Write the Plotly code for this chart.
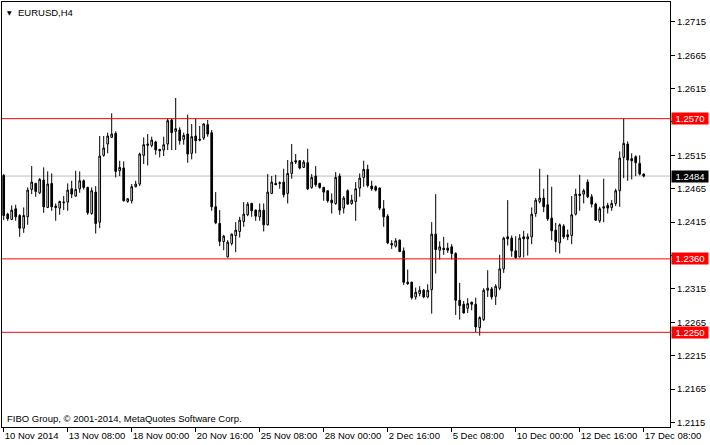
import plotly.graph_objects as go

# EURUSD H4 bars (oldest first)
OPEN = [
    1.2485, 1.2427, 1.2419, 1.2435, 1.2425, 1.2406, 1.2423, 1.2464, 1.2473, 1.2459,
    1.2478, 1.2437, 1.2473, 1.2439, 1.2436, 1.2444, 1.2445, 1.2465, 1.2454, 1.2465,
    1.2477, 1.2467, 1.2428, 1.2460, 1.2415, 1.2515, 1.2532, 1.2542, 1.2548, 1.2492,
    1.2496, 1.2446, 1.2447, 1.2468, 1.2472, 1.2515, 1.2530, 1.2530, 1.2535, 1.2524,
    1.2523, 1.2532, 1.2568, 1.2551, 1.2553, 1.2539, 1.2547, 1.2518, 1.2544, 1.2539,
    1.2541, 1.2561, 1.2549, 1.2438, 1.2413, 1.2386, 1.2363, 1.2383, 1.2395, 1.2401,
    1.2416, 1.2426, 1.2443, 1.2433, 1.2423, 1.2433, 1.2411, 1.2458, 1.2473, 1.2473,
    1.2475, 1.2458, 1.2488, 1.2507, 1.2507, 1.2497, 1.2504, 1.2467, 1.2484, 1.2473,
    1.2467, 1.2462, 1.2448, 1.2443, 1.2484, 1.2436, 1.2462, 1.2443, 1.2446, 1.2466,
    1.2482, 1.2494, 1.2469, 1.2468, 1.2466, 1.2435, 1.2424, 1.2383, 1.2379, 1.2388,
    1.2372, 1.2325, 1.2325, 1.2303, 1.2308, 1.2313, 1.2303, 1.2314, 1.2397, 1.2373,
    1.2376, 1.2376, 1.2378, 1.2368, 1.2298, 1.2292, 1.2286, 1.2295, 1.2292, 1.2257,
    1.2269, 1.2313, 1.2315, 1.2304, 1.2316, 1.2345, 1.2393, 1.2391, 1.2372, 1.2363,
    1.2393, 1.2390, 1.2393, 1.2428, 1.2446, 1.2451, 1.2441, 1.2421, 1.2403, 1.2384,
    1.2409, 1.2396, 1.2395, 1.2427, 1.2457, 1.2457, 1.2475, 1.2453, 1.2442, 1.2417,
    1.2436, 1.2440, 1.2437, 1.2443, 1.2462, 1.2512, 1.2532, 1.2510, 1.2513, 1.2503,
    1.2487,
]
HIGH = [
    1.2487, 1.2429, 1.2440, 1.2441, 1.2427, 1.2437, 1.2467, 1.2499, 1.2474, 1.2481,
    1.2497, 1.2491, 1.2488, 1.2443, 1.2447, 1.2454, 1.2473, 1.2477, 1.2492, 1.2491,
    1.2479, 1.2468, 1.2467, 1.2469, 1.2544, 1.2544, 1.2549, 1.2578, 1.2551, 1.2507,
    1.2506, 1.2451, 1.2472, 1.2477, 1.2519, 1.2542, 1.2547, 1.2543, 1.2537, 1.2524,
    1.2543, 1.2571, 1.2571, 1.2601, 1.2557, 1.2549, 1.2576, 1.2562, 1.2570, 1.2559,
    1.2563, 1.2568, 1.2553, 1.2460, 1.2433, 1.2396, 1.2388, 1.2398, 1.2415, 1.2423,
    1.2445, 1.2445, 1.2444, 1.2434, 1.2443, 1.2443, 1.2487, 1.2484, 1.2486, 1.2476,
    1.2495, 1.2508, 1.2532, 1.2517, 1.2508, 1.2508, 1.2525, 1.2487, 1.2499, 1.2474,
    1.2468, 1.2463, 1.2458, 1.2490, 1.2488, 1.2454, 1.2464, 1.2456, 1.2475, 1.2488,
    1.2507, 1.2501, 1.2477, 1.2470, 1.2467, 1.2448, 1.2427, 1.2388, 1.2391, 1.2389,
    1.2377, 1.2344, 1.2326, 1.2317, 1.2319, 1.2315, 1.2322, 1.2415, 1.2457, 1.2386,
    1.2393, 1.2384, 1.2382, 1.2370, 1.2324, 1.2297, 1.2301, 1.2296, 1.2302, 1.2274,
    1.2316, 1.2343, 1.2318, 1.2322, 1.2366, 1.2393, 1.2448, 1.2395, 1.2394, 1.2397,
    1.2402, 1.2398, 1.2437, 1.2451, 1.2495, 1.2465, 1.2486, 1.2468, 1.2414, 1.2413,
    1.2412, 1.2404, 1.2454, 1.2465, 1.2486, 1.2465, 1.2479, 1.2457, 1.2444, 1.2438,
    1.2480, 1.2444, 1.2448, 1.2465, 1.2521, 1.2570, 1.2536, 1.2518, 1.2515, 1.2515,
    1.2488,
]
LOW = [
    1.2418, 1.2417, 1.2418, 1.2417, 1.2393, 1.2399, 1.2411, 1.2457, 1.2453, 1.2457,
    1.2429, 1.2436, 1.2432, 1.2417, 1.2426, 1.2433, 1.2432, 1.2451, 1.2453, 1.2459,
    1.2464, 1.2426, 1.2426, 1.2398, 1.2406, 1.2513, 1.2518, 1.2541, 1.2482, 1.2484,
    1.2446, 1.2444, 1.2443, 1.2467, 1.2469, 1.2502, 1.2500, 1.2527, 1.2516, 1.2512,
    1.2514, 1.2523, 1.2523, 1.2523, 1.2531, 1.2531, 1.2504, 1.2509, 1.2518, 1.2536,
    1.2538, 1.2543, 1.2432, 1.2412, 1.2379, 1.2373, 1.2362, 1.2380, 1.2370, 1.2392,
    1.2408, 1.2424, 1.2423, 1.2417, 1.2417, 1.2401, 1.2410, 1.2457, 1.2471, 1.2465,
    1.2452, 1.2443, 1.2480, 1.2502, 1.2494, 1.2496, 1.2463, 1.2465, 1.2468, 1.2465,
    1.2447, 1.2444, 1.2428, 1.2441, 1.2426, 1.2428, 1.2441, 1.2441, 1.2417, 1.2453,
    1.2468, 1.2467, 1.2462, 1.2461, 1.2433, 1.2408, 1.2382, 1.2375, 1.2377, 1.2370,
    1.2321, 1.2321, 1.2299, 1.2299, 1.2304, 1.2301, 1.2301, 1.2278, 1.2338, 1.2359,
    1.2366, 1.2369, 1.2359, 1.2276, 1.2269, 1.2278, 1.2279, 1.2283, 1.2250, 1.2245,
    1.2267, 1.2303, 1.2299, 1.2291, 1.2313, 1.2339, 1.2380, 1.2363, 1.2360, 1.2362,
    1.2362, 1.2365, 1.2382, 1.2423, 1.2443, 1.2430, 1.2417, 1.2388, 1.2370, 1.2368,
    1.2390, 1.2388, 1.2382, 1.2425, 1.2432, 1.2443, 1.2451, 1.2437, 1.2417, 1.2414,
    1.2415, 1.2428, 1.2432, 1.2439, 1.2438, 1.2481, 1.2477, 1.2479, 1.2484, 1.2485,
    1.2482,
]
CLOSE = [
    1.2425, 1.2420, 1.2433, 1.2423, 1.2406, 1.2425, 1.2463, 1.2475, 1.2461, 1.2479,
    1.2438, 1.2472, 1.2438, 1.2437, 1.2446, 1.2445, 1.2463, 1.2457, 1.2464, 1.2477,
    1.2467, 1.2429, 1.2462, 1.2413, 1.2514, 1.2526, 1.2544, 1.2547, 1.2491, 1.2497,
    1.2447, 1.2450, 1.2468, 1.2472, 1.2517, 1.2531, 1.2532, 1.2538, 1.2523, 1.2522,
    1.2531, 1.2567, 1.2549, 1.2555, 1.2537, 1.2545, 1.2517, 1.2543, 1.2537, 1.2538,
    1.2562, 1.2547, 1.2438, 1.2414, 1.2386, 1.2394, 1.2385, 1.2397, 1.2403, 1.2418,
    1.2427, 1.2442, 1.2432, 1.2424, 1.2433, 1.2411, 1.2460, 1.2475, 1.2471, 1.2474,
    1.2456, 1.2488, 1.2505, 1.2505, 1.2496, 1.2505, 1.2465, 1.2482, 1.2471, 1.2467,
    1.2460, 1.2447, 1.2444, 1.2482, 1.2433, 1.2451, 1.2442, 1.2448, 1.2465, 1.2481,
    1.2494, 1.2470, 1.2465, 1.2463, 1.2436, 1.2423, 1.2384, 1.2381, 1.2387, 1.2371,
    1.2325, 1.2323, 1.2302, 1.2310, 1.2313, 1.2303, 1.2313, 1.2397, 1.2374, 1.2378,
    1.2374, 1.2373, 1.2368, 1.2298, 1.2290, 1.2279, 1.2293, 1.2292, 1.2258, 1.2272,
    1.2313, 1.2316, 1.2303, 1.2319, 1.2345, 1.2391, 1.2390, 1.2372, 1.2362, 1.2391,
    1.2390, 1.2393, 1.2427, 1.2448, 1.2451, 1.2438, 1.2420, 1.2402, 1.2386, 1.2411,
    1.2393, 1.2393, 1.2426, 1.2457, 1.2455, 1.2462, 1.2453, 1.2442, 1.2418, 1.2435,
    1.2438, 1.2436, 1.2443, 1.2462, 1.2511, 1.2533, 1.2508, 1.2507, 1.2504, 1.2487,
    1.2484,
]

TIME_TICK_BARS = [0, 16, 32, 48, 64, 80, 96, 112, 128, 144, 160]
TIME_TICK_LABELS = [
    "10 Nov 2014", "13 Nov 08:00", "18 Nov 00:00", "20 Nov 16:00", "25 Nov 08:00",
    "28 Nov 00:00", "2 Dec 16:00", "5 Dec 08:00", "10 Dec 00:00", "12 Dec 16:00",
    "17 Dec 08:00",
]
PRICE_TICKS = [1.2115, 1.2165, 1.2215, 1.2265, 1.2315, 1.2365, 1.2415,
               1.2465, 1.2515, 1.2565, 1.2615, 1.2665, 1.2715]
HIDDEN_TICK = 1.2565                 # sits fully under the 1.2570 price box
LEVELS = [1.2570, 1.2360, 1.2250]   # red horizontal lines
BID = 1.2484                         # last price line

FONT = "Liberation Sans, Arial, sans-serif"
RED = "#ff0000"
SILVER = "#c0c0c0"

bars = list(range(len(OPEN)))

fig = go.Figure()
fig.add_trace(
    go.Candlestick(
        x=bars, open=OPEN, high=HIGH, low=LOW, close=CLOSE,
        increasing=dict(line=dict(color="black", width=1), fillcolor="white"),
        decreasing=dict(line=dict(color="black", width=1), fillcolor="black"),
        whiskerwidth=0, hoverinfo="skip", showlegend=False,
    )
)

fig.add_hline(y=BID, line_color=SILVER, line_width=1, layer="below")
for lvl in LEVELS:
    fig.add_hline(y=lvl, line_color=RED, line_width=1)

# price boxes on the right scale
for lvl, bg in [(l, RED) for l in LEVELS] + [(BID, "black")]:
    fig.add_annotation(
        x=1, xref="paper", xanchor="left", xshift=1,
        y=lvl, yref="y", yanchor="middle",
        text=f"{lvl:.4f}", showarrow=False,
        bgcolor=bg, font=dict(family=FONT, size=9.5, color="white"),
        width=36, height=11, borderpad=0, align="center",
    )

fig.add_annotation(
    x=0, xref="paper", xanchor="left", xshift=3,
    y=1, yref="paper", yanchor="top", yshift=-5,
    text="▼", showarrow=False, font=dict(family="DejaVu Sans", size=6, color="black"),
)
fig.add_annotation(
    x=0, xref="paper", xanchor="left", xshift=14,
    y=1, yref="paper", yanchor="top", yshift=-3,
    text="EURUSD,H4", showarrow=False, font=dict(family=FONT, size=9.5, color="black"),
)
fig.add_annotation(
    x=0, xref="paper", xanchor="left", xshift=3,
    y=0, yref="paper", yanchor="bottom", yshift=1,
    text="FIBO Group, © 2001-2014, MetaQuotes Software Corp.", showarrow=False,
    font=dict(family=FONT, size=9.5, color="black"),
)

fig.update_layout(
    width=710, height=445,
    margin=dict(l=2, r=40, t=2, b=18, autoexpand=False),
    plot_bgcolor="white", paper_bgcolor="white",
    font=dict(family=FONT, size=9.5, color="black"),
    showlegend=False, boxgap=0.4,
)
fig.update_xaxes(
    range=[-0.425, 166.575], rangeslider_visible=False, automargin=False,
    showgrid=False, zeroline=False,
    showline=True, mirror=True, linecolor="black", linewidth=1,
    ticks="outside", ticklen=4, tickcolor="black", tickwidth=1,
    tickvals=TIME_TICK_BARS, ticktext=TIME_TICK_LABELS, tickangle=0,
    ticklabelposition="outside right", ticklabelstandoff=0,
)
fig.update_yaxes(
    side="right", range=[1.21082, 1.27447], automargin=False,
    showgrid=False, zeroline=False,
    showline=True, mirror=True, linecolor="black", linewidth=1,
    ticks="outside", ticklen=4, tickcolor="black", tickwidth=1,
    tickvals=PRICE_TICKS,
    ticktext=["" if p == HIDDEN_TICK else f"{p:.4f}" for p in PRICE_TICKS],
)

# drop the browser's default body margin so the 710x445 figure fills the page
fig.write_html(
    "out.html",
    config={"displayModeBar": False},
    post_script="document.body.style.margin = '0';",
)
